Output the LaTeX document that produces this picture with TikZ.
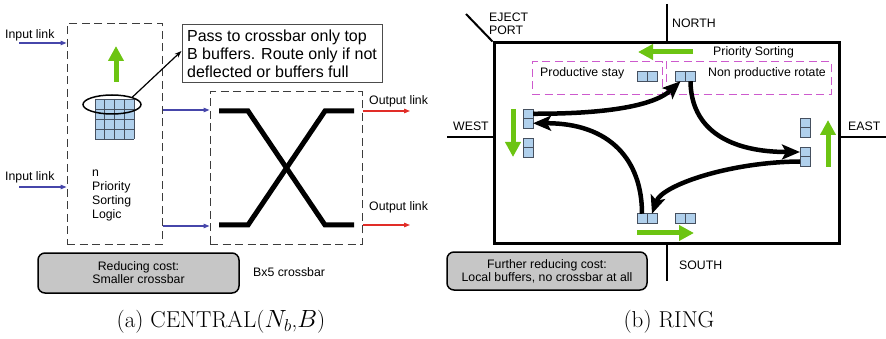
\documentclass[tikz,border=0pt]{standalone}
\usepackage{fontspec}
\newfontfamily\arial{Liberation Sans}
\usetikzlibrary{arrows.meta,shapes.geometric}
\definecolor{bufblue}{RGB}{176,208,236}
\definecolor{bufedge}{RGB}{70,80,95}
\definecolor{grn}{RGB}{108,196,18}
\definecolor{lnkblue}{RGB}{70,70,170}
\definecolor{lnkred}{RGB}{225,45,40}
\definecolor{magc}{RGB}{205,90,205}
\definecolor{costgray}{RGB}{198,198,198}
\definecolor{dashgray}{RGB}{60,60,60}
\tikzset{
  txt/.style={font=\arial\fontsize{12.3}{13}\selectfont, inner sep=0pt, anchor=west, align=left},
  cell/.style={draw=bufedge, fill=bufblue, line width=0.7pt, minimum width=10pt, minimum height=9.5pt, inner sep=0pt, outer sep=0pt},
  garrow/.style={draw=grn, line width=5pt, -{Triangle[length=15pt,width=15pt]}},
  carrow/.style={line width=4.5pt, -{Stealth[length=18pt,width=15pt,inset=4pt]}},
  link/.style={line width=1.2pt, -{Triangle[length=6pt,width=4.5pt]}},
  dbox/.style={draw=dashgray, line width=1pt, dash pattern=on 8pt off 4.5pt, inner sep=0pt},
  mbox/.style={draw=magc, line width=1pt, dash pattern=on 8pt off 4.5pt},
  costbox/.style={draw=black, line width=1.5pt, fill=costgray, rounded corners=7pt, align=center, font=\arial\fontsize{12.3}{13}\selectfont, inner sep=0pt},
  port/.style={line width=2pt},
  captxt/.style={font=\fontsize{23}{27}\selectfont, inner sep=0pt}
}
\begin{document}
\begin{tikzpicture}[x=1pt,y=-1pt]
\useasboundingbox (0,0) rectangle (886,339);
% ---------------- (a) CENTRAL ----------------
\node[dbox, minimum width=95pt, minimum height=220pt] (sortbox) at (114.5,134) {};
\node[dbox, minimum width=152pt, minimum height=152pt] (xbox) at (286,168) {};
% input links
\node[txt] (inl1) at (5,35) {Input link};
\node[txt] (inl2) at (5,177) {Input link};
\coordinate (in1) at (19,43);
\coordinate (in2) at (19,187);
\draw[link, lnkblue] (in1) -- (in1 -| sortbox.west);
\draw[link, lnkblue] (in2) -- (in2 -| sortbox.west);
% green arrow
\coordinate (ga1) at (116,82);
\coordinate (ga2) at (116,46);
\draw[garrow] (ga1) -- (ga2);
% buffer grid
\fill[bufblue] (95,99) rectangle (134,139);
\foreach \i in {0,...,4} {
  \draw[bufedge, line width=0.7pt] ({95+9.75*\i},99) -- ({95+9.75*\i},139);
  \draw[bufedge, line width=0.7pt] (95,{99+10*\i}) -- (134,{99+10*\i});
}
\node[draw, ellipse, line width=1.5pt, minimum width=58pt, minimum height=19pt, inner sep=0pt] (sel) at (112,104.5) {};
% callout
\node[draw=black!70, line width=1pt, minimum width=200pt, minimum height=58pt, align=left, inner sep=0pt,
      font=\arial\fontsize{16}{18}\selectfont] (callout) at (282,54)
      {Pass to crossbar only top\\B buffers. Route only if not\\deflected or buffers full};
\draw[line width=1.2pt, -{Stealth[length=7pt,width=5pt]}] (sel.20) -- ([yshift=3pt]callout.west);
% sorting logic text
\node[txt, font=\arial\fontsize{12.3}{13.7}\selectfont] (logic) at (92,195.5) {n\\Priority\\Sorting\\Logic};
% sort -> crossbar
\coordinate (ya) at (0,110);
\coordinate (yb) at (0,226);
\draw[link, lnkblue] (sortbox.east |- ya) -- (xbox.west |- ya);
\draw[link, lnkblue] (sortbox.east |- yb) -- (xbox.west |- yb);
% crossbar
\draw[line width=5pt] (219,111) -- (248,111) -- (325,225) -- (354,225);
\draw[line width=5pt] (219,225) -- (248,225) -- (325,111) -- (354,111);
% output links
\coordinate (oa) at (410,111);
\coordinate (ob) at (410,225);
\draw[link, lnkred] (xbox.east |- oa) -- (oa);
\draw[link, lnkred] (xbox.east |- ob) -- (ob);
\node[txt] (outl1) at (369,101) {Output link};
\node[txt] (outl2) at (369,207) {Output link};
\node[txt] (bx5) at (253,272) {Bx5 crossbar};
\node[costbox, minimum width=201pt, minimum height=40pt] (cost1) at (138.5,273) {Reducing cost:\\Smaller crossbar};
% ---------------- (b) RING ----------------
\node[draw, line width=3pt, minimum width=345pt, minimum height=200pt, inner sep=0pt] (ring) at (666.5,143) {};
\coordinate (ejend) at (466,14);
\coordinate (northend) at (667,4);
\coordinate (westend) at (447,137);
\coordinate (eastend) at (886,137);
\coordinate (southend) at (667,281);
\draw[port] (ejend) -- (ring.north west);
\draw[port] (northend) -- (northend |- ring.north);
\draw[port] (westend) -- (westend -| ring.west);
\draw[port] (eastend) -- (eastend -| ring.east);
\draw[port] (southend) -- (southend |- ring.south);
\node[txt] (ejl) at (489,23.5) {EJECT\\PORT};
\node[txt] (nl) at (672,23) {NORTH};
\node[txt] (wl) at (453,126) {WEST};
\node[txt] (el) at (848,126) {EAST};
\node[txt] (sl) at (679,265) {SOUTH};
% priority sorting
\coordinate (ps1) at (693,52);
\coordinate (ps2) at (638,52);
\draw[garrow] (ps1) -- (ps2);
\node[txt] (psl) at (713,52) {Priority Sorting};
% magenta boxes
\node[mbox, minimum width=130pt, minimum height=33pt, inner sep=0pt] (pstay) at (597,78.5) {};
\node[mbox, minimum width=165pt, minimum height=33pt, inner sep=0pt] (nprot) at (748.5,78.5) {};
\node[txt] (psll) at (540,73) {Productive stay};
\node[txt] (npl) at (708,73) {Non productive rotate};
% buffers
\node[cell] (p1) at (642,76.5) {};
\node[cell] (p2) at (652,76.5) {};
\node[cell] (np1) at (680.5,76.5) {};
\node[cell] (np2) at (690.5,76.5) {};
\node[cell] (w1) at (528,113.75) {};
\node[cell] (w2) at (528,123.25) {};
\node[cell] (w3) at (528,142.75) {};
\node[cell] (w4) at (528,152.25) {};
\node[cell] (e1) at (805,122.75) {};
\node[cell] (e2) at (805,132.25) {};
\node[cell] (e3) at (805,152) {};
\node[cell] (e4) at (805,161.5) {};
\node[cell] (s1) at (642,218.5) {};
\node[cell] (s2) at (652,218.5) {};
\node[cell] (s3) at (680,218.5) {};
\node[cell] (s4) at (690,218.5) {};
% green side arrows
\coordinate (gw1) at (513,109);
\coordinate (gw2) at (513,157);
\draw[garrow] (gw1) -- (gw2);
\coordinate (ge1) at (828,167);
\coordinate (ge2) at (828,120);
\draw[garrow] (ge1) -- (ge2);
\coordinate (gs1) at (637,233);
\coordinate (gs2) at (694,233);
\draw[garrow] (gs1) -- (gs2);
% curved arrows
\draw[carrow] (np2.south) .. controls (691,130) and (730,152) .. (e3.west);
\draw[carrow] (e4.west) .. controls (730,162) and (662,185) .. (s2.north);
\draw[carrow] (s1.north) .. controls (642,160) and (610,123) .. (w2.east);
\draw[carrow] (w1.east) .. controls (610,114) and (655,105) .. (np1.south);
\node[costbox, minimum width=200pt, minimum height=38pt] (cost2) at (547,271) {Further reducing cost:\\Local buffers, no crossbar at all};
% captions
\node[captxt] (capa) at (221,322) {(a) CENTRAL($N_b$,$B$)};
\node[captxt] (capb) at (669,322) {(b) RING};
\end{tikzpicture}
\end{document}
